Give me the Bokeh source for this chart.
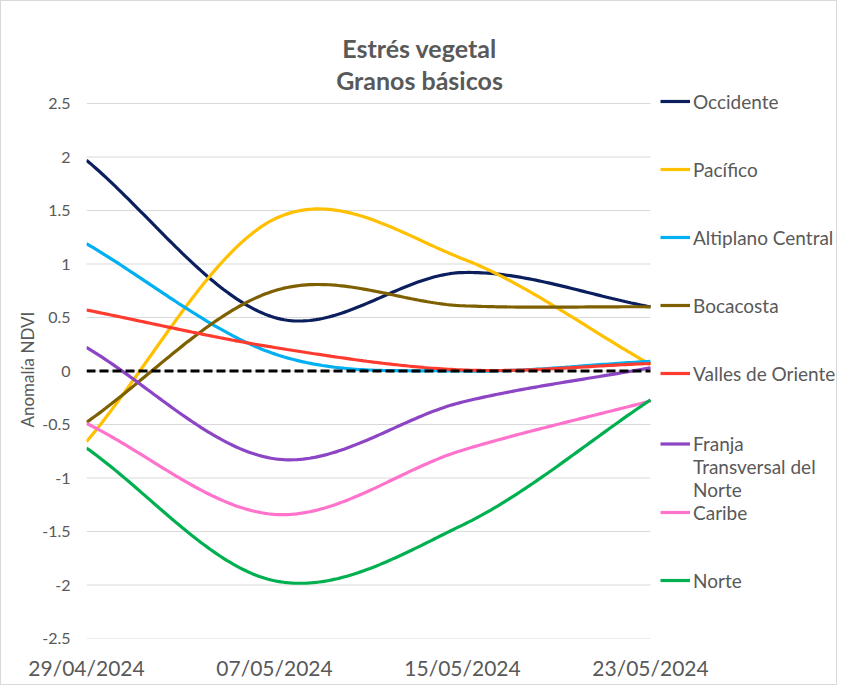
import numpy as np
import pandas as pd
from bokeh.plotting import figure
from bokeh.models import Range1d, FixedTicker, DatetimeTickFormatter, Legend, LegendItem, Label, Title
from bokeh.embed import file_html
from bokeh.resources import INLINE

# ---------------- data ----------------
dates = ["2024-04-29", "2024-05-07", "2024-05-15", "2024-05-23"]
x_tick_labels = ["29/04/2024", "07/05/2024", "15/05/2024", "23/05/2024"]

occidente = [1.97, 0.50, 0.92, 0.60]
pacifico = [-0.66, 1.42, 1.05, 0.06]
altiplano = [1.19, 0.16, 0.00, 0.09]
bocacosta = [-0.48, 0.75, 0.61, 0.60]
valles = [0.57, 0.22, 0.01, 0.07]
franja = [0.22, -0.82, -0.29, 0.03]
caribe = [-0.49, -1.34, -0.74, -0.28]
norte = [-0.72, -1.96, -1.44, -0.27]
referencia = [0, 0, 0, 0]

names = ["Occidente", "Pacífico", "Altiplano Central", "Bocacosta",
         "Valles de Oriente", "Franja Transversal del Norte", "Caribe", "Norte"]
franja_label_lines = ["Franja", "Transversal del", "Norte"]
values = [occidente, pacifico, altiplano, bocacosta, valles, franja, caribe, norte]
colors = ["#0B1F5E", "#FFC000", "#00B0F0", "#7F6000",
          "#FF3B2F", "#8B45C5", "#FF73CC", "#00B050"]

y_ticks = [-2.5, -2.0, -1.5, -1.0, -0.5, 0.0, 0.5, 1.0, 1.5, 2.0, 2.5]
y_tick_labels = ["-2.5", "-2", "-1.5", "-1", "-0.5", "0", "0.5", "1", "1.5", "2", "2.5"]
title_lines = ["Estrés vegetal", "Granos básicos"]
y_axis_title = "Anomalía NDVI"

TEXT = "#595959"
FONT = "Lato"

x_ms = (pd.to_datetime(dates).astype("int64") // 10**6).astype(float).to_numpy()


def smooth(xs, ys, n=60):
    """Excel-like smoothed line (cardinal spline through the points)."""
    xs = np.asarray(xs, float)
    ys = np.asarray(ys, float)

    def tangents(a):
        m = np.empty_like(a)
        m[0] = a[1] - a[0]
        m[-1] = a[-1] - a[-2]
        m[1:-1] = (a[2:] - a[:-2]) / 2.0
        return m

    mx, my = tangents(xs), tangents(ys)
    t = np.linspace(0, 1, n)
    h00 = 2 * t**3 - 3 * t**2 + 1
    h10 = t**3 - 2 * t**2 + t
    h01 = -2 * t**3 + 3 * t**2
    h11 = t**3 - t**2
    ox, oy = [], []
    for i in range(len(xs) - 1):
        ox.append(h00 * xs[i] + h10 * mx[i] + h01 * xs[i + 1] + h11 * mx[i + 1])
        oy.append(h00 * ys[i] + h10 * my[i] + h01 * ys[i + 1] + h11 * my[i + 1])
    return np.concatenate(ox), np.concatenate(oy)


# ---------------- layout constants (pixels) ----------------
W, H = 837, 685
BL, BB = 85, 48                 # left / bottom borders
PLOT_W = 564                    # pixel width of the date span
PLOT_H = 535                    # pixel height of -2.5 .. 2.5
frame_w = W - BL
frame_h = H - BB
span = x_ms[-1] - x_ms[0]
px_x = span / PLOT_W            # ms per pixel
px_y = 5.0 / PLOT_H             # units per pixel

x_end = x_ms[0] + frame_w * px_x
y_top = -2.5 + frame_h * px_y

p = figure(width=W, height=H, x_axis_type="datetime",
           x_range=Range1d(x_ms[0], x_end), y_range=Range1d(-2.5, y_top),
           output_backend="svg", toolbar_location=None,
           min_border_left=BL, min_border_right=0, min_border_top=0, min_border_bottom=BB)
p.outline_line_color = None
p.background_fill_color = "white"
p.border_fill_color = "white"
p.styles = {"border": "1px solid #D9D9D9"}

# grid (only across the date span)
p.xgrid.grid_line_color = None
p.ygrid.grid_line_color = None
p.segment(x0=[x_ms[0]] * len(y_ticks), x1=[x_ms[-1]] * len(y_ticks), y0=y_ticks, y1=y_ticks,
          line_color="#D9D9D9", line_width=1)

# axes
p.yaxis.ticker = FixedTicker(ticks=y_ticks)
p.yaxis.major_label_overrides = {v: s for v, s in zip(y_ticks, y_tick_labels)}
p.xaxis.ticker = FixedTicker(ticks=list(x_ms))
p.xaxis.formatter = DatetimeTickFormatter(days="%d/%m/%Y", months="%d/%m/%Y", years="%d/%m/%Y")
p.xaxis.major_label_overrides = {float(v): s for v, s in zip(x_ms, x_tick_labels)}
for ax in (p.xaxis[0], p.yaxis[0]):
    ax.axis_line_color = None
    ax.major_tick_line_color = None
    ax.minor_tick_line_color = None
    ax.major_tick_out = 0
    ax.major_label_text_color = TEXT
    ax.major_label_text_font = FONT
p.yaxis.major_label_text_font_size = "16px"
p.yaxis.major_label_standoff = 16
p.xaxis.major_label_text_font_size = "21px"
p.xaxis.major_label_standoff = 16

# y-axis title, placed beside the -2.5..2.5 span (starts at the -0.5 level)
p.add_layout(Title(text=y_axis_title, align="left", offset=211, standoff=4,
                   text_font=FONT, text_font_size="17px", text_font_style="normal",
                   text_color=TEXT), "left")

# series
renderers = []
for name, vals, col in zip(names, values, colors):
    sx, sy = smooth(x_ms, vals)
    r = p.line(sx, sy, line_color=col, line_width=3.2)
    renderers.append(r)

zx, zy = smooth(x_ms, referencia)
p.line(zx, zy, line_color="black", line_width=3, line_dash="9 4")

dummy = p.line(x=[], y=[], line_alpha=0)

LEG_X = 574


def make_legend(items, item_h, spacing, vy):
    lg = Legend(items=items, location=(LEG_X, vy), orientation="vertical",
                padding=0, margin=0, spacing=spacing,
                label_height=item_h, glyph_height=item_h, glyph_width=30, label_standoff=3,
                label_text_font=FONT, label_text_font_size="19px", label_text_color=TEXT,
                border_line_color=None, background_fill_alpha=0)
    p.add_layout(lg)


make_legend([LegendItem(label=names[i], renderers=[renderers[i]]) for i in range(5)], 24, 44, 253)
make_legend([LegendItem(label=franja_label_lines[0], renderers=[renderers[5]]),
             LegendItem(label=franja_label_lines[1], renderers=[dummy]),
             LegendItem(label=franja_label_lines[2], renderers=[dummy])], 23, 0, 137)
make_legend([LegendItem(label=names[i], renderers=[renderers[i]]) for i in (6, 7)], 24, 44, 46)

# chart title (centred over the chart box)
title_x = x_ms[0] + (419 - 86) * px_x
for txt, py in zip(title_lines, (47, 79)):
    p.add_layout(Label(x=title_x, y=-2.5 + (638 - py) * px_y, text=txt,
                       text_align="center", text_baseline="middle",
                       text_font=FONT, text_font_size="25px", text_font_style="bold",
                       text_color=TEXT))

open("out.html", "w").write(file_html(p, INLINE))
